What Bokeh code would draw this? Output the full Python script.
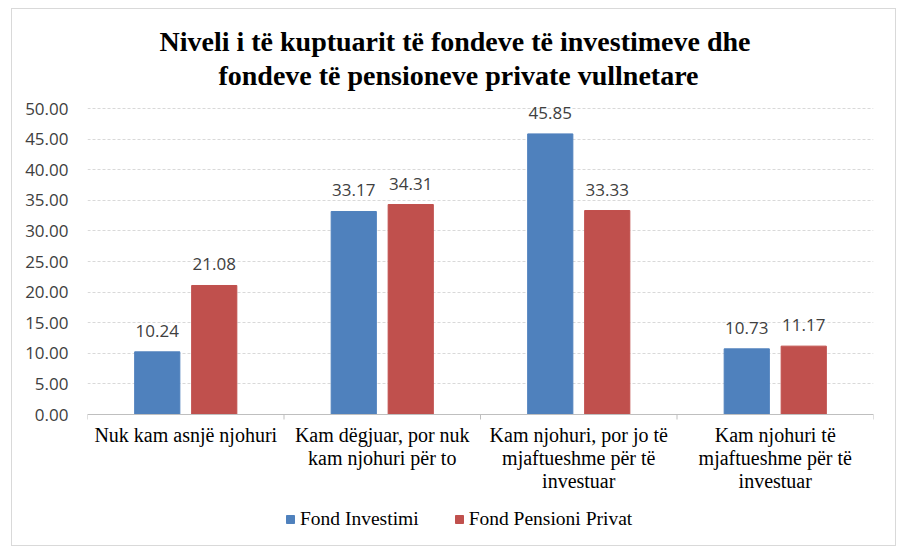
from bokeh.plotting import figure
from bokeh.models import (ColumnDataSource, Range1d, FixedTicker, NumeralTickFormatter,
                          Legend, LegendItem)
from bokeh.transform import dodge
from bokeh.core.properties import value
from bokeh.embed import file_html
from bokeh.resources import INLINE

title_lines = ["Niveli i të kuptuarit  të fondeve të investimeve dhe",
               "fondeve të pensioneve private vullnetare"]
categories = [
    "Nuk kam asnjë njohuri",
    "Kam dëgjuar, por nuk\nkam njohuri për to",
    "Kam njohuri, por jo të\nmjaftueshme për të\ninvestuar",
    "Kam njohuri të\nmjaftueshme për të\ninvestuar",
]
fond_investimi = [10.24, 33.17, 45.85, 10.73]
fond_pensioni = [21.08, 34.31, 33.33, 11.17]
series_names = ["Fond Investimi", "Fond Pensioni Privat"]
y_ticks = [0, 5, 10, 15, 20, 25, 30, 35, 40, 45, 50]

BLUE = "#4F81BD"
RED = "#C0504D"
SANS = "Open Sans"
SERIF = "Liberation Serif"

# layout (pixels)
W, H = 885, 538
LEFT, RIGHT, TOP, BOTTOM = 75, 24, 5, 5
Y0_PX, Y50_PX = 405, 99          # canvas rows of value 0 and value 50
ppu = (Y0_PX - Y50_PX) / 50.0
y_lo = -(H - BOTTOM - Y0_PX) / ppu
y_hi = 50 + (Y50_PX - TOP) / ppu

n = len(categories)
centers = [i + 0.5 for i in range(n)]
bounds = [float(i) for i in range(n + 1)]

src = ColumnDataSource(dict(
    xc=centers,
    inv=fond_investimi,
    pen=fond_pensioni,
    inv_lbl=["%.2f" % v for v in fond_investimi],
    pen_lbl=["%.2f" % v for v in fond_pensioni],
))

p = figure(width=W, height=H, output_backend="svg", toolbar_location=None,
           x_range=Range1d(0, n), y_range=Range1d(y_lo, y_hi),
           x_axis_location=None,
           min_border_left=LEFT, min_border_right=RIGHT, min_border_top=TOP, min_border_bottom=BOTTOM)
p.styles = {"border": "1px solid #D9D9D9", "margin-left": "11px", "margin-top": "8px"}
p.title.visible = False
p.outline_line_color = None
p.background_fill_color = "white"
p.border_fill_color = "white"

# grid
p.xgrid.grid_line_color = None
p.ygrid.grid_line_color = "#D9D9D9"
p.ygrid.grid_line_dash = "3 2"

# title (two centred lines)
p.text(x=[n / 2.0] * 2, y=[50, 50], text=title_lines, x_offset=-22, y_offset=[-67, -33],
       text_align="center", text_baseline="middle",
       text_font=value(SERIF), text_font_size="28px", text_font_style="bold", text_color="#000000")

bw = 0.23
off = 0.145
r1 = p.vbar(x=dodge("xc", -off), top="inv", width=bw, source=src,
            fill_color=BLUE, line_color=BLUE)
r2 = p.vbar(x=dodge("xc", off), top="pen", width=bw, source=src,
            fill_color=RED, line_color=RED)

for col, lbl, sign in (("inv", "inv_lbl", -1), ("pen", "pen_lbl", 1)):
    p.text(x=dodge("xc", sign * off), y=col, text=lbl, source=src,
           text_align="center", text_baseline="middle", y_offset=-21,
           text_font=value(SANS), text_font_size="17px", text_color="#404040")

# category axis line and boundary ticks
p.hspan(y=[0], line_color="#BFBFBF", line_width=1)
p.segment(x0=bounds, y0=[0] * len(bounds), x1=bounds, y1=[-5 / ppu] * len(bounds),
          line_color="#BFBFBF", line_width=1)

# category labels, one text per line
lx, lt, lo = [], [], []
for i, c in enumerate(categories):
    for k, line in enumerate(c.split("\n")):
        lx.append(centers[i])
        lt.append(line)
        lo.append(20 + 23 * k)
p.text(x=lx, y=[0] * len(lx), text=lt, y_offset=lo,
       text_align="center", text_baseline="middle",
       text_font=value(SERIF), text_font_size="20px", text_color="#000000")

p.yaxis.ticker = FixedTicker(ticks=y_ticks)
p.yaxis.formatter = NumeralTickFormatter(format="0.00")
p.yaxis.axis_line_color = None
p.yaxis.major_tick_line_color = None
p.yaxis.minor_tick_line_color = None
p.yaxis.major_label_standoff = 13
p.yaxis.major_label_text_font = SANS
p.yaxis.major_label_text_font_size = "17px"
p.yaxis.major_label_text_color = "#404040"

legend = Legend(items=[LegendItem(label=series_names[0], renderers=[r1]),
                       LegendItem(label=series_names[1], renderers=[r2])],
                orientation="horizontal", location=(198, 12),
                border_line_color=None, background_fill_alpha=0,
                label_text_font=SERIF, label_text_font_size="19.5px", label_text_color="#000000",
                glyph_width=10, glyph_height=10, label_standoff=5, spacing=35,
                margin=0, padding=4)
p.add_layout(legend, "center")

open("out.html", "w").write(file_html(p, INLINE))
